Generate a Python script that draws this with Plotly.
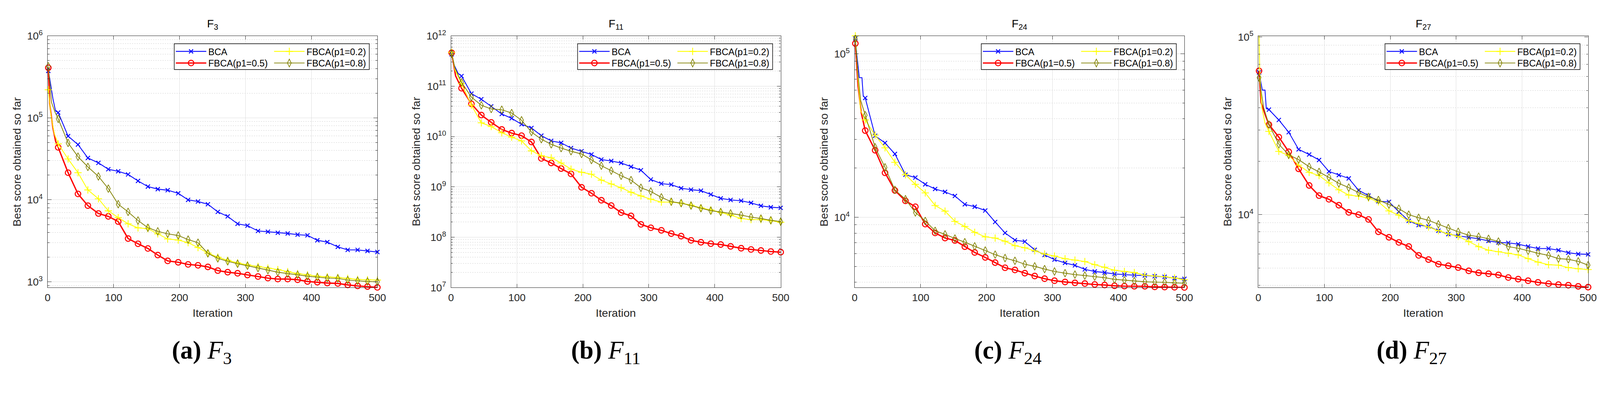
import plotly.graph_objects as go

# iterations where markers are drawn (MATLAB MarkerIndices)
MARK_ITERS = [1, 16, 31, 46, 61, 77, 92, 107, 122, 137, 152, 167, 182, 198, 213, 228, 243,
              258, 273, 288, 303, 319, 334, 349, 364, 379, 394, 409, 424, 440, 455, 470, 485, 500]

SERIES = ["BCA", "FBCA(p1=0.5)", "FBCA(p1=0.2)", "FBCA(p1=0.8)"]
PANELS = ["F3", "F11", "F24", "F27"]
PANEL_SUB = ["3", "11", "24", "27"]
CAPTION_LETTERS = ["a", "b", "c", "d"]

# ---- F3 ----
F3_BCA = [374000, 116000, 59800, 47200, 32400, 28200, 23600, 22300, 20400, 17000, 14500, 13500,
          13100, 12000, 9980, 9530, 8840, 7130, 6280, 5100, 4840, 4170, 4080, 3960, 3890, 3760,
          3690, 3210, 3050, 2670, 2450, 2450, 2380, 2310]
F3_P05 = [408000, 43600, 21400, 11800, 8490, 6810, 6280, 5430, 3370, 2910, 2550, 2120, 1800,
          1730, 1630, 1590, 1520, 1370, 1310, 1270, 1210, 1160, 1110, 1080, 1080, 1060, 1010,
          990, 966, 955, 917, 891, 875, 855]
F3_P02 = [220000, 48100, 31500, 21400, 13200, 10300, 7340, 6070, 5100, 4550, 4450, 3850, 3330,
          3230, 3000, 2620, 2240, 2000, 1830, 1700, 1610, 1540, 1470, 1410, 1330, 1260, 1220,
          1170, 1150, 1130, 1100, 1070, 1060, 1050]
F3_P08 = [425000, 97200, 49400, 33600, 25200, 19300, 13700, 8840, 7130, 5590, 4570, 4120, 3850,
          3670, 3270, 3000, 2220, 1930, 1780, 1660, 1570, 1470, 1390, 1310, 1260, 1220, 1170,
          1140, 1110, 1100, 1050, 1030, 1010, 1000]

# ---- F11 ----
F11_BCA = [4.3e11, 1.59e11, 7.1e10, 5.5e10, 3.97e10, 2.8e10, 2.3e10, 1.75e10, 1.48e10, 1.04e10,
           8.2e9, 7.5e9, 5.9e9, 5.1e9, 4.4e9, 3.49e9, 3.27e9, 2.98e9, 2.51e9, 2.14e9, 1.40e9,
           1.16e9, 1.11e9, 9.4e8, 8.8e8, 8.4e8, 7.06e8, 5.9e8, 5.5e8, 5.3e8, 4.8e8, 4.2e8,
           3.94e8, 3.83e8]
F11_P05 = [4.6e11, 9.1e10, 4.45e10, 2.67e10, 1.91e10, 1.38e10, 1.17e10, 1.04e10, 7.8e9, 3.67e9,
           2.98e9, 2.31e9, 1.81e9, 9.8e8, 7.47e8, 5.42e8, 4.25e8, 3.08e8, 2.65e8, 1.80e8, 1.54e8,
           1.37e8, 1.18e8, 1.05e8, 8.65e7, 7.94e7, 7.43e7, 7.16e7, 6.58e7, 6.04e7, 5.71e7,
           5.45e7, 5.20e7, 5.05e7]
F11_P02 = [4.7e11, 1.12e11, 4.2e10, 1.87e10, 1.58e10, 1.19e10, 9.7e9, 8.2e9, 5.2e9, 4.15e9,
           3.78e9, 2.98e9, 2.25e9, 1.95e9, 1.78e9, 1.36e9, 1.14e9, 9.6e8, 7.8e8, 6.6e8, 5.7e8,
           4.98e8, 4.98e8, 4.75e8, 4.33e8, 3.83e8, 3.48e8, 3.11e8, 2.75e8, 2.35e8, 2.24e8,
           2.24e8, 2.13e8, 1.98e8]
F11_P08 = [4.4e11, 1.19e11, 6.07e10, 4.17e10, 3.53e10, 3.4e10, 2.93e10, 2.1e10, 1.23e10, 8.85e9,
           7.0e9, 5.9e9, 5.1e9, 4.5e9, 3.42e9, 2.63e9, 2.1e9, 1.66e9, 1.36e9, 9.6e8, 8.1e8, 6.2e8,
           5.07e8, 4.75e8, 4.25e8, 3.76e8, 3.36e8, 3.17e8, 2.97e8, 2.75e8, 2.51e8, 2.35e8,
           2.17e8, 2.04e8]

# ---- F24 ----
F24_BCA = [124000, 53700, 31500, 28500, 24400, 18200, 17500, 15900, 14900, 14300, 13500, 12000,
           11600, 11000, 9360, 8020, 7250, 7100, 6320, 5880, 5510, 5260, 5080, 4800, 4660, 4590,
           4500, 4460, 4420, 4400, 4360, 4320, 4240, 4200]
F24_P05 = [115600, 33900, 25700, 18700, 14600, 12600, 11600, 9080, 8020, 7460, 7210, 6610, 6090,
           5680, 5280, 4910, 4760, 4550, 4370, 4210, 4090, 4020, 3970, 3930, 3880, 3850, 3810,
           3790, 3780, 3780, 3750, 3740, 3730, 3720]
F24_P02 = [128800, 39400, 31800, 26600, 21700, 18200, 15900, 14100, 11800, 10900, 9440, 8780,
           8090, 7590, 7460, 7140, 6700, 6510, 6230, 5960, 5790, 5580, 5470, 5360, 5130, 4940,
           4740, 4660, 4590, 4420, 4370, 4330, 4250, 4150]
F24_P08 = [123300, 42100, 26800, 20200, 14700, 12900, 10700, 9490, 8260, 7860, 7410, 7040, 6640,
           6260, 5910, 5630, 5420, 5160, 5010, 4820, 4660, 4550, 4460, 4400, 4330, 4270, 4170,
           4120, 4070, 4030, 4010, 4000, 3970, 3950]

# ---- F27 ----
F27_BCA = [63100, 39000, 34100, 29100, 23300, 21800, 20300, 17500, 16700, 16000, 13700, 12800,
           11900, 11800, 10400, 9230, 8740, 8590, 8120, 7770, 7600, 7460, 7320, 7120, 6980, 6940,
           6830, 6620, 6450, 6450, 6310, 6110, 6010, 5980]
F27_P05 = [64400, 32100, 27300, 22600, 18100, 14600, 12800, 12200, 11300, 10300, 10000, 9400,
           8010, 7460, 6980, 6620, 5900, 5590, 5270, 5160, 5040, 4830, 4710, 4650, 4580, 4430,
           4340, 4250, 4160, 4090, 4040, 4010, 3950, 3910]
F27_P02 = [101400, 29400, 22700, 21500, 19000, 17300, 16600, 15100, 13800, 12900, 12700, 12400,
           11800, 10500, 9930, 9230, 8920, 8520, 8120, 7800, 7550, 7060, 6610, 6310, 6190, 6070,
           5940, 5660, 5410, 5230, 5200, 5040, 4960, 4910]
F27_P08 = [59000, 32100, 24900, 21700, 20400, 18600, 17400, 16200, 15000, 14200, 13300, 12600,
           12100, 11400, 10800, 10000, 9610, 9290, 8830, 8410, 8010, 7660, 7520, 7320, 7060, 6610,
           6470, 6270, 6070, 5900, 5660, 5610, 5460, 5200]

# extra (unmarked) points of the steep first iterations: (iterations, values)
EARLY = {
    ("F3", "BCA"): ([3, 8, 12], [306000, 171000, 121000]),
    ("F3", "FBCA(p1=0.5)"): ([3, 8, 12], [150000, 75000, 52000]),
    ("F3", "FBCA(p1=0.2)"): ([5, 10], [108000, 64100]),
    ("F3", "FBCA(p1=0.8)"): ([6, 11], [153000, 118000]),
    ("F11", "BCA"): ([5, 11], [2.6e11, 1.78e11]),
    ("F11", "FBCA(p1=0.5)"): ([7], [1.6e11]),
    ("F11", "FBCA(p1=0.2)"): ([6], [2.1e11]),
    ("F11", "FBCA(p1=0.8)"): ([6], [2.3e11]),
    ("F24", "BCA"): ([3, 7, 11, 13], [101000, 71500, 71500, 55000]),
    ("F24", "FBCA(p1=0.5)"): ([5, 10], [64000, 43500]),
    ("F24", "FBCA(p1=0.2)"): ([5, 9], [70000, 45000]),
    ("F24", "FBCA(p1=0.8)"): ([5, 9], [75000, 52000]),
    ("F27", "BCA"): ([6, 10, 12], [50200, 50200, 39500]),
    ("F27", "FBCA(p1=0.5)"): ([4, 11], [42800, 35900]),
    ("F27", "FBCA(p1=0.2)"): ([2, 5, 10], [65600, 40500, 32800]),
    ("F27", "FBCA(p1=0.8)"): ([8], [40000]),
}

DATA = {
    "F3": [F3_BCA, F3_P05, F3_P02, F3_P08],
    "F11": [F11_BCA, F11_P05, F11_P02, F11_P08],
    "F24": [F24_BCA, F24_P05, F24_P02, F24_P08],
    "F27": [F27_BCA, F27_P05, F27_P02, F27_P08],
}

Y_RANGES = [(2.93, 6), (7, 12), (3.57, 5.11), (3.59, 5.006)]
Y_DECADES = [(3, 6), (7, 12), (4, 5), (4, 5)]

# the page is shown at ~1.054 device px per css px, with the 8px body margin
K = 1 / 1.054
OFF = 8
REF_W, REF_H = 4351, 1033
W = round(REF_W * K) - OFF
H = round(REF_H * K) - OFF


def s(v):
    return v * K


def px(x):
    return (x * K - OFF) / W


def py(y):
    return 1 - (y * K - OFF) / H


# styles per series
STYLE = {
    "BCA": dict(color="#0000ff", width=2.2, symbol="x-thin-open", size=11, mlw=2.4),
    "FBCA(p1=0.5)": dict(color="#ff0000", width=3.6, symbol="circle-open", size=15, mlw=2.8),
    "FBCA(p1=0.2)": dict(color="#ffff00", width=2.2, symbol="cross-thin-open", size=14, mlw=2.2),
    "FBCA(p1=0.8)": dict(color="#808000", width=2.0, symbol="diamond-tall-open", size=15, mlw=1.8),
}
# legend slot of each series inside the MATLAB-like box: (column, row)
LEG_SLOT = {"BCA": (0, 0), "FBCA(p1=0.5)": (0, 1), "FBCA(p1=0.2)": (1, 0), "FBCA(p1=0.8)": (1, 1)}

# reference-pixel positions
AX_LEFT = [122, 1218, 2315, 3412]
AX_W = 896
AX_TOP, AX_BOT = 79, 782
YTITLE_X = [39, 1123, 2232, 3328]
CAPTION_X = [541, 1639, 2731, 3829]

FONT = "Liberation Sans, Arial, sans-serif"
AXCOL = "#262626"

fig = go.Figure()
shapes = []
annotations = []
layout = {}
nleg = 0

for p, name in enumerate(PANELS):
    sfx = "" if p == 0 else str(p + 1)
    xa, ya = "x" + sfx, "y" + sfx
    x0, x1 = AX_LEFT[p], AX_LEFT[p] + AX_W

    # legend box (MATLAB style, two columns)
    bx1 = x1 - 22
    bx0 = bx1 - 530
    by0 = AX_TOP + 22
    by1 = by0 + 72
    shapes.append(dict(type="rect", xref="paper", yref="paper", x0=px(bx0), x1=px(bx1),
                       y0=py(by1), y1=py(by0), line=dict(color="#000000", width=s(1.5)),
                       fillcolor="white", layer="above"))

    for i, sname in enumerate(SERIES):
        st = STYLE[sname]
        vals = DATA[name][i]
        ex, ey = EARLY[(name, sname)]
        pts = sorted(list(zip(MARK_ITERS, vals)) + list(zip(ex, ey)))
        lx = [a for a, b in pts]
        ly = [b for a, b in pts]
        fig.add_trace(go.Scatter(x=lx, y=ly, mode="lines", xaxis=xa, yaxis=ya,
                                 line=dict(color=st["color"], width=s(st["width"])),
                                 showlegend=False, hoverinfo="skip"))
        mk = dict(symbol=st["symbol"], size=s(st["size"]), color=st["color"],
                  line=dict(color=st["color"], width=s(st["mlw"])))
        fig.add_trace(go.Scatter(x=MARK_ITERS, y=vals, mode="markers", xaxis=xa, yaxis=ya,
                                 marker=mk, showlegend=False, cliponaxis=False))

        # one legend per entry so it sits at the MATLAB slot
        leg = "legend" if nleg == 0 else "legend" + str(nleg + 1)
        nleg += 1
        col, row = LEG_SLOT[sname]
        fig.add_trace(go.Scatter(x=[None], y=[None], mode="lines+markers", name=sname,
                                 xaxis=xa, yaxis=ya, legend=leg,
                                 line=dict(color=st["color"], width=s(st["width"])),
                                 marker=mk))
        layout[leg] = dict(orientation="v", xanchor="left", yanchor="middle",
                           x=px(bx0 - 1 + 267 * col), y=py(by0 + 21.5 + 32.5 * row),
                           bgcolor="rgba(0,0,0,0)", borderwidth=0, itemwidth=78,
                           font=dict(family=FONT, size=s(25), color="#000000"))

    lo, hi = Y_DECADES[p]
    major = [10 ** k for k in range(lo, hi + 1)]
    minor = [m * 10 ** k for k in range(lo - 1, hi + 1) for m in range(2, 10)]
    tfont = dict(family=FONT, size=s(28), color=AXCOL)

    layout["xaxis" + sfx] = dict(
        domain=[px(x0), px(x1)], anchor=ya, range=[0, 500],
        tickvals=[0, 100, 200, 300, 400, 500], ticks="inside", ticklen=s(10), tickwidth=s(1.5),
        tickcolor=AXCOL, mirror="allticks", showline=True, linecolor=AXCOL, linewidth=s(1.5),
        showgrid=True, gridcolor="#dedede", gridwidth=s(1.5), zeroline=False,
        tickfont=tfont, ticklabelstandoff=2,
    )
    layout["yaxis" + sfx] = dict(
        domain=[py(AX_BOT), py(AX_TOP)], anchor=xa, type="log", range=list(Y_RANGES[p]),
        tickvals=major, ticktext=["10<sup>%d</sup>" % k for k in range(lo, hi + 1)],
        ticks="inside", ticklen=s(10), tickwidth=s(1.5), tickcolor=AXCOL, mirror="allticks",
        showline=True, linecolor=AXCOL, linewidth=s(1.5),
        showgrid=True, gridcolor="#dedede", gridwidth=s(1.5), zeroline=False,
        tickfont=tfont, ticklabelstandoff=round(s(6)),
        minor=dict(tickvals=minor, ticks="inside", ticklen=s(5), tickcolor=AXCOL,
                   showgrid=True, gridcolor="#d2d2d2", griddash="dot", gridwidth=s(1.2)),
    )

    xc = (x0 + x1) / 2
    annotations.append(dict(text="F<sub>%s</sub>" % PANEL_SUB[p], xref="paper", yref="paper",
                            x=px(xc), y=py(68), xanchor="center", yanchor="bottom",
                            showarrow=False, font=dict(family=FONT, size=s(30), color="#000000")))
    annotations.append(dict(text="Iteration", xref="paper", yref="paper",
                            x=px(xc), y=py(853), xanchor="center", yanchor="middle",
                            showarrow=False, font=dict(family=FONT, size=s(30), color=AXCOL)))
    annotations.append(dict(text="Best score obtained so far", xref="paper", yref="paper",
                            x=px(YTITLE_X[p]), y=py((AX_TOP + AX_BOT) / 2), textangle=-90,
                            xanchor="center", yanchor="middle", showarrow=False,
                            font=dict(family=FONT, size=s(30), color=AXCOL)))
    annotations.append(dict(text="<b>(%s)</b> <i>F</i><sub>%s</sub>" % (CAPTION_LETTERS[p], PANEL_SUB[p]),
                            xref="paper", yref="paper", x=px(CAPTION_X[p]), y=py(962),
                            xanchor="center", yanchor="middle", showarrow=False,
                            font=dict(family="Liberation Serif, Times New Roman, serif", size=s(68),
                                      color="#000000")))

fig.update_layout(
    width=W, height=H, margin=dict(l=0, r=0, t=0, b=0),
    paper_bgcolor="white", plot_bgcolor="white",
    shapes=shapes, annotations=annotations, **layout,
)

fig.write_html("out.html")
